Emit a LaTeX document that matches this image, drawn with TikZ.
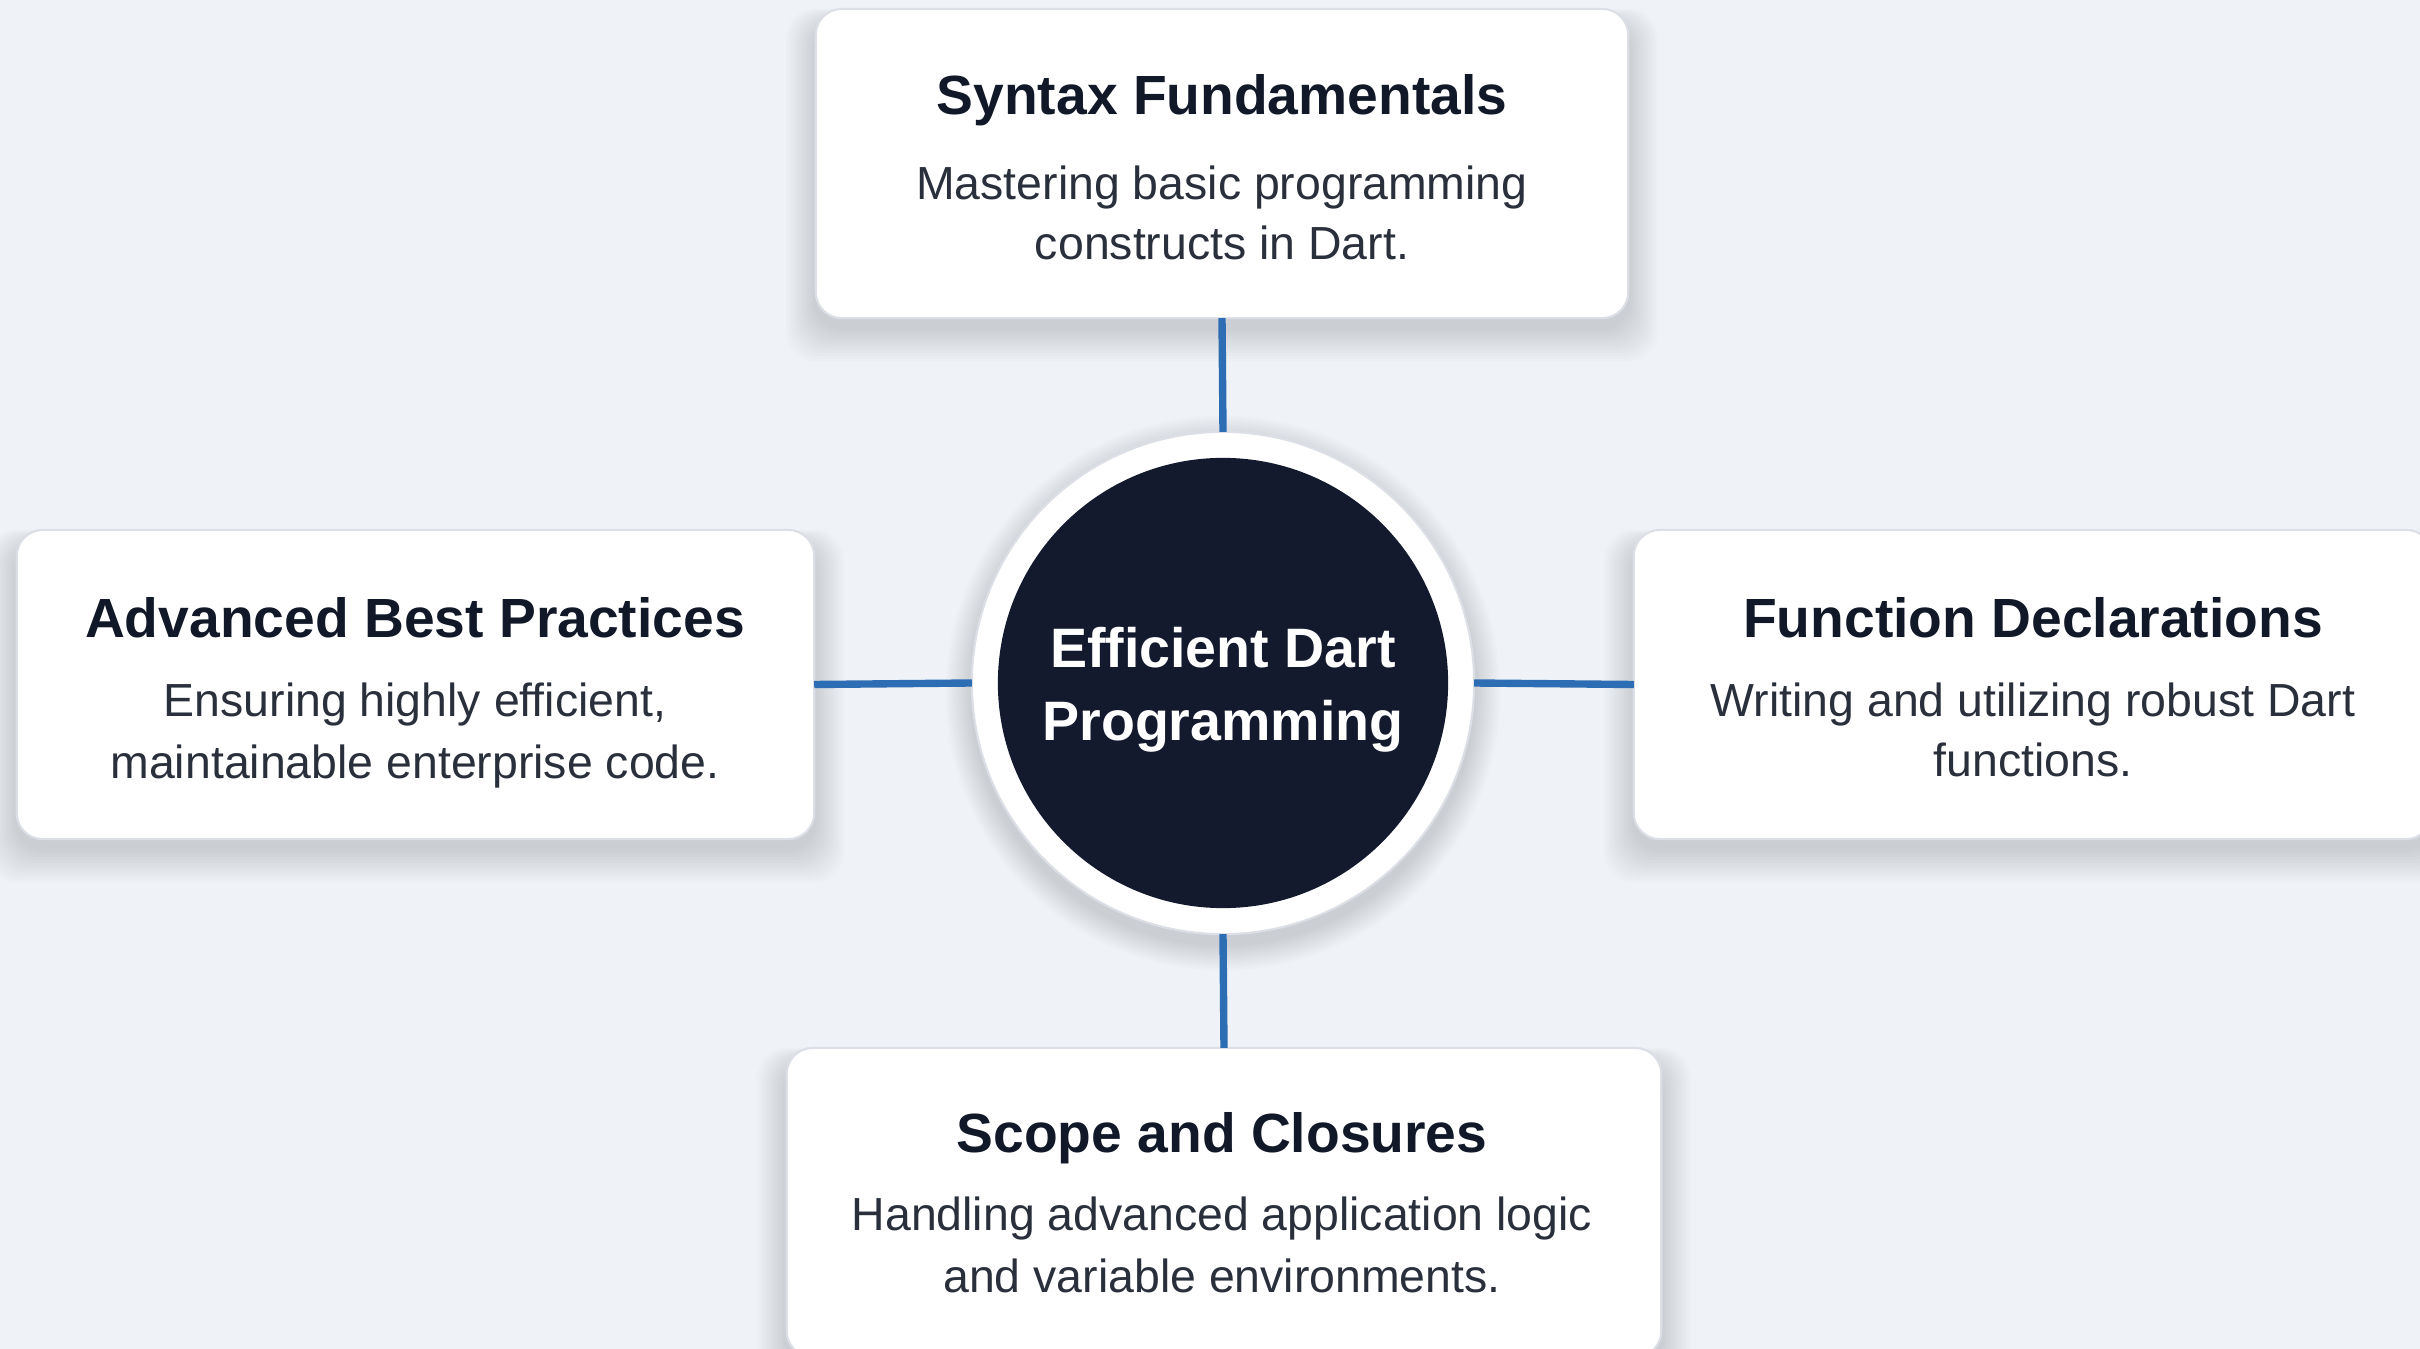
\documentclass[tikz,border=0pt]{standalone}
\usepackage{fontspec}
\setmainfont{Liberation Sans}
\definecolor{bgc}{HTML}{EFF2F7}
\definecolor{linkc}{HTML}{2C6DB3}
\definecolor{navy}{HTML}{131A2E}
\definecolor{ttlc}{HTML}{111827}
\definecolor{dscc}{HTML}{2A303B}
\definecolor{edgec}{HTML}{DCE0E6}
\newcommand\cardshadow[4]{%
  \foreach \k in {1,...,12}{%
    \fill[black, opacity=0.011, rounded corners=0.3cm]
      ({#1-\k*2.5},{#2+14-\k*1.2}) rectangle ({#3+\k*2.5},{#4+10+\k*2.8});
  }}
\begin{document}
\begin{tikzpicture}[x=0.01cm,y=-0.01cm,
  card/.style={draw=edgec, line width=0.6pt, fill=white, rounded corners=0.26cm,
    inner sep=0pt, outer sep=0pt, minimum height=3.09cm},
  ttl/.style={font=\fontsize{15.7pt}{18pt}\selectfont\bfseries, text=ttlc, inner sep=0pt, anchor=base},
  dsc/.style={font=\fontsize{13.2pt}{15pt}\selectfont, text=dscc, inner sep=0pt, anchor=base},
  ctr/.style={font=\fontsize{15.8pt}{18pt}\selectfont\bfseries, text=white, inner sep=0pt, anchor=base},
  link/.style={draw=linkc, line width=2.1pt}]
\fill[bgc] (0,0) rectangle (2420,1349);
\useasboundingbox (0,0) rectangle (2420,1349);

% shadows
\cardshadow{816}{9}{1628}{318}
\cardshadow{17}{530}{814}{839}
\cardshadow{1634}{530}{2432}{839}
\cardshadow{787}{1048}{1661}{1357}
\foreach \k in {1,...,12}{%
  \fill[black, opacity=0.011] (1223,{683+10}) circle ({251+\k*2.2});
}

% cards
\node[card, minimum width=8.12cm] (top) at (1222,163.5) {};
\node[card, minimum width=7.97cm] (left) at (415.5,684.5) {};
\node[card, minimum width=7.98cm] (right) at (2033,684.5) {};
\node[card, minimum width=8.74cm] (bottom) at (1224,1202.5) {};

% center
\node[circle, fill=white, draw=edgec, line width=0.6pt, minimum size=5.02cm, inner sep=0pt, outer sep=0pt] (ring) at (1223,683) {};
\node[circle, fill=navy, minimum size=4.5cm, inner sep=0pt] (core) at (1223,683) {};

% connectors
\draw[link] (top.south) -- (ring.north);
\draw[link] (ring.south) -- (bottom.north);
\draw[link] (left.east) -- (ring.west);
\draw[link] (ring.east) -- (right.west);

% texts
\node[ctr] (c1) at (1223,668) {Efficient Dart};
\node[ctr] (c2) at (1223,741) {Programming};

\node[ttl] (t1) at (1222,115) {Syntax Fundamentals};
\node[dsc] (d1a) at (1222,200) {Mastering basic programming};
\node[dsc] (d1b) at (1222,260) {constructs in Dart.};

\node[ttl] (t2) at (415,638) {Advanced Best Practices};
\node[dsc] (d2a) at (415,717) {Ensuring highly efficient,};
\node[dsc] (d2b) at (415,778) {maintainable enterprise code.};

\node[ttl] (t3) at (2033,638) {Function Declarations};
\node[dsc] (d3a) at (2033,717) {Writing and utilizing robust Dart};
\node[dsc] (d3b) at (2033,777) {functions.};

\node[ttl] (t4) at (1222,1152) {Scope and Closures};
\node[dsc] (d4a) at (1222,1230) {Handling advanced application logic};
\node[dsc] (d4b) at (1222,1292) {and variable environments.};
\end{tikzpicture}
\end{document}
